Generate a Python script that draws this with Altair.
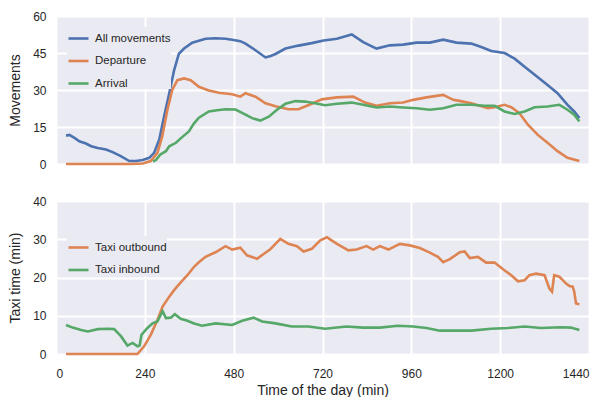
import altair as alt
import pandas as pd

# ---------------- data ----------------
all_t = [27, 36, 50, 63, 81, 95, 113, 135, 153, 175, 198, 216, 234, 252, 265, 279, 292, 306, 319, 332, 346,
         368, 386, 404, 431, 458, 476, 498, 512, 539, 566, 580, 593, 620, 655, 691, 723, 759, 799, 830, 866,
         902, 938, 974, 1010, 1046, 1082, 1122, 1149, 1176, 1212, 1239, 1266, 1301, 1328, 1355, 1382, 1400, 1414]
all_v = [11.5, 11.8, 10.6, 9.2, 8.3, 7.2, 6.5, 5.9, 4.8, 3.2, 1.2, 1.2, 1.6, 2.5, 4.5, 9.9, 19.3, 28.7, 38.0, 44.7, 46.8,
         49.2, 50.0, 50.8, 51.0, 50.8, 50.4, 49.8, 48.8, 46.1, 43.2, 43.8, 44.6, 46.8, 48.0, 49.0, 50.1, 50.8, 52.5, 49.4, 46.8,
         48.1, 48.4, 49.2, 49.2, 50.4, 49.2, 48.8, 47.4, 45.8, 45.0, 42.7, 39.4, 35.3, 32.0, 28.7, 24.0, 21.3, 18.6]

dep_t = [27, 100, 200, 234, 256, 274, 287, 301, 314, 328, 346, 364, 386, 413, 440, 476, 498, 512, 539, 566,
         593, 628, 655, 691, 718, 759, 803, 835, 866, 902, 938, 965, 1001, 1046, 1073, 1086, 1122, 1167, 1185,
         1212, 1230, 1252, 1275, 1301, 1328, 1355, 1382, 1414]
dep_v = [0, 0, 0, 0.2, 1.2, 4.5, 11.2, 22.0, 30.0, 34.0, 34.7, 34.0, 31.3, 29.8, 28.9, 28.3, 27.3, 28.7, 27.3, 24.6,
         23.4, 22.2, 22.2, 24.4, 26.2, 27.0, 27.3, 24.9, 23.6, 24.6, 24.9, 26.0, 27.0, 28.0, 26.0, 25.7, 24.6, 22.6, 23.0,
         24.0, 23.0, 20.6, 15.9, 11.9, 8.6, 5.2, 2.5, 1.2]

arr_t = [262, 270, 282, 297, 306, 324, 340, 359, 373, 386, 413, 435, 458, 485, 512, 530, 552, 575, 597, 620,
         647, 673, 700, 727, 759, 799, 830, 866, 902, 938, 974, 1010, 1046, 1082, 1122, 1158, 1185, 1212, 1239,
         1266, 1293, 1328, 1360, 1382, 1400, 1414]
arr_v = [1.0, 1.6, 3.9, 5.2, 7.2, 8.6, 10.8, 13.2, 16.5, 18.8, 21.3, 21.8, 22.2, 22.1, 20.0, 18.6, 17.6, 19.2, 22.0, 24.4,
         25.5, 25.3, 24.6, 23.8, 24.4, 24.9, 24.0, 22.9, 23.3, 22.9, 22.6, 22.0, 22.6, 24.0, 24.0, 23.6, 23.6, 21.3, 20.3,
         21.3, 23.0, 23.3, 24.0, 22.0, 20.0, 17.3]

out_t = [27, 120, 220, 238, 256, 274, 288, 306, 319, 337, 355, 373, 386, 404, 431, 458, 476, 498, 516, 543, 579,
         606, 628, 651, 669, 691, 714, 732, 759, 790, 812, 839, 857, 875, 898, 929, 956, 983, 1010, 1032, 1046,
         1064, 1091, 1104, 1118, 1140, 1162, 1185, 1207, 1230, 1248, 1266, 1279, 1297, 1320, 1333, 1340, 1346,
         1360, 1369, 1378, 1387, 1396, 1400, 1405, 1414]
out_v = [0, 0, 0, 2.0, 5.0, 8.9, 12.4, 15.0, 16.7, 18.7, 20.6, 22.8, 24.0, 25.4, 26.6, 28.2, 27.3, 27.8, 25.8, 24.9, 27.4,
         30.1, 28.8, 28.2, 26.8, 27.5, 29.7, 30.5, 28.8, 27.1, 27.3, 28.2, 27.3, 28.2, 27.3, 28.8, 28.4, 27.7, 26.5, 25.4, 24.0,
         24.8, 26.6, 26.8, 25.1, 25.4, 23.9, 23.9, 22.2, 20.6, 19.0, 19.3, 20.6, 21.0, 20.6, 17.1, 16.3, 20.6,
         20.2, 19.3, 18.4, 17.8, 17.6, 16.3, 13.2, 13.0]

in_t = [27, 45, 68, 86, 113, 139, 157, 176, 193, 207, 220, 226, 231, 247, 261, 274, 288, 297, 310, 321, 337, 355,
        373, 395, 431, 476, 503, 534, 557, 593, 637, 682, 727, 785, 830, 875, 924, 965, 1001, 1037, 1073, 1122,
        1176, 1221, 1266, 1310, 1364, 1391, 1414]
in_v = [7.6, 6.9, 6.3, 5.9, 6.5, 6.6, 6.5, 4.6, 2.2, 2.9, 2.0, 2.2, 5.0, 6.8, 8.0, 8.5, 11.2, 9.4, 9.5, 10.4, 9.2, 8.7,
        8.0, 7.4, 8.0, 7.6, 8.7, 9.5, 8.5, 8.0, 7.2, 7.2, 6.6, 7.2, 6.9, 6.9, 7.4, 7.2, 6.8, 6.1, 6.1, 6.1,
        6.6, 6.8, 7.2, 6.8, 7.0, 6.9, 6.3]

top_names = ["All movements", "Departure", "Arrival"]
top_colors = ["#4C72B0", "#DD8452", "#55A868"]
bot_names = ["Taxi outbound", "Taxi inbound"]
bot_colors = ["#DD8452", "#55A868"]
x_ticks = [0, 240, 480, 720, 960, 1200, 1440]
top_ticks = [0, 15, 30, 45, 60]
bot_ticks = [0, 10, 20, 30, 40]


def frame(name, ts, vs):
    return pd.DataFrame({"time": ts, "value": vs, "series": name})


top_df = pd.concat([frame(top_names[0], all_t, all_v),
                    frame(top_names[1], dep_t, dep_v),
                    frame(top_names[2], arr_t, arr_v)])
bot_df = pd.concat([frame(bot_names[0], out_t, out_v),
                    frame(bot_names[1], in_t, in_v)])

FONT = "Liberation Sans"
LW = 2.6

legend_common = dict(title=None, orient="none", symbolType="stroke", symbolSize=400,
                     symbolStrokeWidth=2.6, labelFontSize=11.5, labelFont=FONT, labelColor="#262626",
                     labelOffset=5, rowPadding=5.5, padding=0, fillColor="#EAEAF2")


def panel(df, names, colors, yticks, ymax, ytitle, height, show_x, legend_y):
    if show_x:
        xaxis = alt.Axis(values=x_ticks, title="Time of the day (min)", format="d")
    else:
        xaxis = alt.Axis(values=x_ticks, title=None, labels=False)
    layers = []
    for i, n in enumerate(names):
        layers.append(
            alt.Chart(df).transform_filter(alt.datum.series == n).mark_line(strokeWidth=LW).encode(
                x=alt.X("time:Q", scale=alt.Scale(domain=[0, 1440], nice=False), axis=xaxis),
                y=alt.Y("value:Q", scale=alt.Scale(domain=[0, ymax], nice=False),
                        axis=alt.Axis(values=yticks, title=ytitle)),
                color=alt.Color("series:N", scale=alt.Scale(domain=names, range=colors),
                                legend=alt.Legend(legendX=11, legendY=legend_y, **legend_common)),
            )
        )
    return alt.layer(*layers).properties(width=533, height=height)


top = panel(top_df, top_names, top_colors, top_ticks, 60, "Movements", 148, False, 11)
bot = panel(bot_df, bot_names, bot_colors, bot_ticks, 40, "Taxi time (min)", 153, True, 35)

chart = alt.vconcat(top, bot, spacing=25).resolve_scale(color="independent").properties(
    padding={"left": 0, "top": 2, "right": 5, "bottom": 0}
).configure_view(fill="#EAEAF2", stroke=None).configure_axis(
    grid=True, gridColor="white", gridWidth=2, domain=False, ticks=False, tickSize=0,
    labelFont=FONT, labelFontSize=12, labelColor="#262626", labelPadding=10,
    titleFont=FONT, titleFontSize=14, titleFontWeight="normal", titleColor="#262626",
).configure_axisX(labelPadding=14, titlePadding=4).configure_axisY(titlePadding=10)

chart.save("out.html", embed_options={"renderer": "svg", "actions": False})
